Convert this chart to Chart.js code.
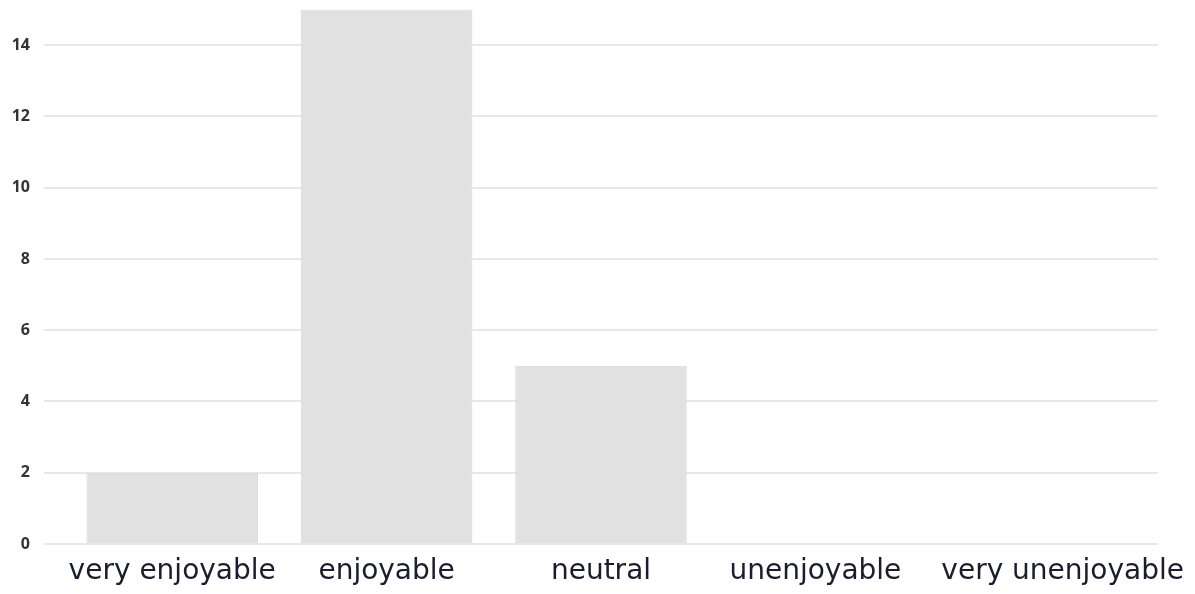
<!DOCTYPE html>
<html>
<head>
<meta charset="utf-8">
<script src="https://cdn.jsdelivr.net/npm/chart.js@4/dist/chart.umd.min.js"></script>
<style>
  html, body { margin: 0; padding: 0; background: #ffffff; }
  #wrap { width: 1195px; height: 594px; position: relative; }
</style>
</head>
<body>
<div id="wrap"><canvas id="c" width="1195" height="594"></canvas></div>
<script>
// Survey answers and how many people gave each one
const categories = ["very enjoyable", "enjoyable", "neutral", "unenjoyable", "very unenjoyable"];
const responses = [2, 15, 5, 0, 0];
const yTicks = [0, 2, 4, 6, 8, 10, 12, 14];

const LABEL_COLOR = "#1c1c30";

// Horizontal guide lines at each y tick, running a little past the plot on both sides
const wideGrid = {
  id: "wideGrid",
  beforeDatasetsDraw(chart) {
    const { ctx, chartArea, scales } = chart;
    const ext = 21;
    ctx.save();
    ctx.strokeStyle = "#e8e8e8";
    ctx.lineWidth = 2;
    yTicks.forEach(v => {
      const y = Math.round(scales.y.getPixelForValue(v));
      ctx.beginPath();
      ctx.moveTo(chartArea.left - ext, y);
      ctx.lineTo(chartArea.right + ext, y);
      ctx.stroke();
    });
    ctx.restore();
  }
};

// Category labels: drawn at the x scale's own label positions, pushed apart
// when two neighbours come too close and kept inside the canvas
const spacedLabels = {
  id: "spacedLabels",
  afterDraw(chart) {
    const { ctx } = chart;
    const scale = chart.scales.x;
    const minGap = 40;
    const margin = 8;
    let prevRight = -Infinity;
    ctx.save();
    scale.getLabelItems().forEach(item => {
      const o = item.options;
      ctx.font = item.font.string;
      ctx.fillStyle = LABEL_COLOR;
      ctx.textAlign = "center";
      ctx.textBaseline = o.textBaseline;
      const half = ctx.measureText(item.label).width / 2;
      let x = o.translation[0];
      x = Math.max(x, prevRight + minGap + half);
      x = Math.min(x, chart.width - margin - half);
      x = Math.max(x, margin + half);
      prevRight = x + half;
      ctx.fillText(item.label, x, o.translation[1] + item.textOffset);
    });
    ctx.restore();
  }
};

new Chart(document.getElementById("c"), {
  type: "bar",
  data: {
    labels: categories,
    datasets: [{
      data: responses,
      backgroundColor: "#e1e1e1",
      borderColor: "#d8d8d8",
      borderWidth: 1,
      categoryPercentage: 0.8,
      barPercentage: 1.0
    }]
  },
  options: {
    responsive: false,
    animation: false,
    events: [],
    layout: { padding: { top: 0, right: 58, left: 0, bottom: 0 } },
    plugins: { legend: { display: false }, tooltip: { enabled: false } },
    scales: {
      x: {
        grid: { display: false, drawTicks: false },
        border: { display: false },
        ticks: {
          color: "rgba(0,0,0,0)",
          padding: 11,
          maxRotation: 0,
          autoSkip: false,
          font: { family: "'DejaVu Sans', sans-serif", size: 28 }
        },
        afterFit(s) { s.height = 50; }
      },
      y: {
        min: 0,
        max: 15,
        grid: { display: true, color: "rgba(0,0,0,0)", drawTicks: true, tickLength: 35 },
        border: { display: false },
        ticks: {
          stepSize: 2,
          includeBounds: false,
          color: "#333333",
          padding: 0,
          font: { family: "'Open Sans', sans-serif", size: 16, weight: "bold" }
        },
        afterFit(s) { s.width = 65; }
      }
    }
  },
  plugins: [wideGrid, spacedLabels]
});
</script>
</body>
</html>
